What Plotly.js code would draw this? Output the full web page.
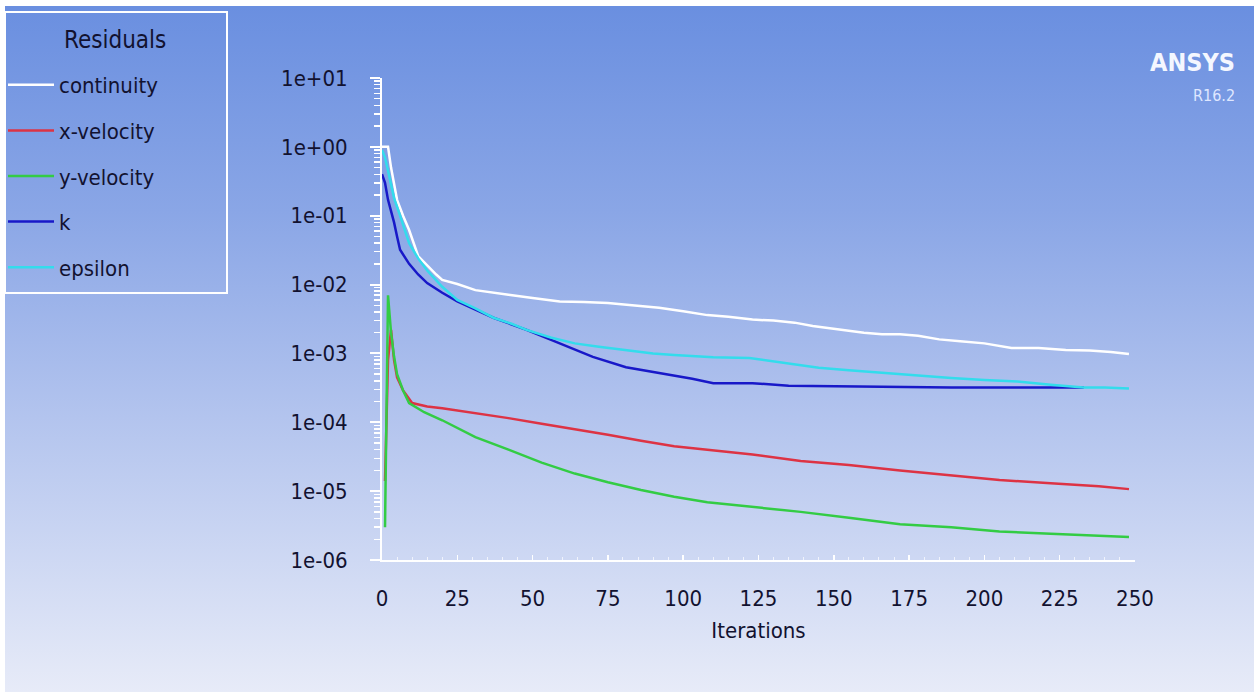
<!DOCTYPE html>
<html>
<head>
<meta charset="utf-8">
<script src="https://cdn.plot.ly/plotly-3.0.1.min.js"></script>
<style>
  html, body { margin: 0; padding: 0; background: #ffffff; }
  #wrap { position: relative; width: 1259px; height: 693px; overflow: hidden; }
  #bg { position: absolute; left: 5px; top: 6px; width: 1249px; height: 686px;
        background: linear-gradient(to bottom, #6a8fe0 0%, #8aa6e6 30%, #b3c4ee 60%, #e7ebf8 100%); }
  #chart { position: absolute; left: 0; top: 0; width: 1259px; height: 693px; }
</style>
</head>
<body>
<div id="wrap"><div id="bg"></div><div id="chart"></div></div>
<script>
// ---- Data ----
const contIter = [0,1,2,3,4,5,7,9,12,15,18,20,25,31,36,42,50,59,67,75,83,92,100,108,115,123,130,137,143,149,155,160,166,172,178,185,192,200,209,218,227,235,242,248];
const contVal  = [1.0,1.0,1.0,0.5,0.28,0.17,0.1,0.062,0.026,0.019,0.014,0.0117,0.0102,0.0083,0.0077,0.0071,0.0064,0.0057,0.0056,0.0054,0.0050,0.0046,0.0041,0.0036,0.0034,0.0031,0.0030,0.0028,0.0025,0.0023,0.0021,0.0020,0.0019,0.0019,0.0018,0.0016,0.0015,0.0014,0.0012,0.0012,0.00112,0.00110,0.00105,0.00098];

const xvIter = [1,2,3,4,5,7,10,15,20,31,42,53,64,75,86,97,108,123,139,155,172,189,205,222,238,248];
const xvVal  = [1.4e-5,8e-4,2.2e-3,8e-4,4.5e-4,2.9e-4,1.9e-4,1.7e-4,1.6e-4,1.37e-4,1.15e-4,9.5e-5,8e-5,6.6e-5,5.4e-5,4.5e-5,4e-5,3.4e-5,2.75e-5,2.4e-5,2.0e-5,1.7e-5,1.45e-5,1.3e-5,1.18e-5,1.07e-5];

const yvIter = [1,2,3,4,5,7,9,14,20,31,42,53,64,75,86,97,108,123,139,155,172,189,205,222,248];
const yvVal  = [3e-6,7e-3,2e-3,9e-4,5e-4,2.9e-4,1.9e-4,1.4e-4,1.07e-4,6.1e-5,4e-5,2.6e-5,1.8e-5,1.35e-5,1.04e-5,8.3e-6,6.9e-6,5.9e-6,5e-6,4.1e-6,3.3e-6,3.0e-6,2.6e-6,2.4e-6,2.15e-6];

const kIter = [0,1,2,3,4,5,6,9,12,15,20,25,31,37,48,59,70,81,92,103,110,123,135,160,189,233];
const kVal  = [0.4,0.3,0.17,0.12,0.08,0.05,0.032,0.02,0.014,0.0105,0.0076,0.0057,0.0043,0.0033,0.0022,0.0014,0.00089,0.00063,0.00052,0.00043,0.00037,0.00037,0.00034,0.00033,0.00032,0.00032];

const epsIter = [0,1,2,3,4,6,9,12,15,20,25,31,37,43,48,56,64,72,81,90,97,110,122,135,145,155,166,178,189,200,211,222,233,240,248];
const epsVal  = [0.9,0.7,0.45,0.28,0.18,0.1,0.04,0.024,0.016,0.0093,0.006,0.0045,0.0033,0.0027,0.0022,0.0017,0.0014,0.00125,0.00112,0.001,0.00095,0.00088,0.00086,0.00072,0.00062,0.00057,0.00052,0.00048,0.00044,0.00041,0.00039,0.00035,0.00032,0.00032,0.00031];

const seriesNames = ['continuity','x-velocity','y-velocity','k','epsilon'];
const seriesColors = ['#ffffff','#dd3344','#33cc44','#1818c8','#33dcec'];

const yTickVals = [1e-6,1e-5,1e-4,1e-3,1e-2,1e-1,1e0,1e1];
const yTickText = ['1e-06','1e-05','1e-04','1e-03','1e-02','1e-01','1e+00','1e+01'];
const xTickVals = [0,25,50,75,100,125,150,175,200,225,250];

// minor tick positions on the log axis (2..9 per decade)
const yMinor = [];
for (let e = -6; e < 1; e++) { for (let m = 2; m <= 9; m++) yMinor.push(m * Math.pow(10, e)); }

const fontStack = '"Liberation Sans Narrow", "DejaVu Sans Condensed", "Liberation Sans", sans-serif';
const textColor = '#121230';

const xs = [contIter, xvIter, yvIter, kIter, epsIter];
const ys = [contVal, xvVal, yvVal, kVal, epsVal];

const traces = seriesNames.map((n, i) => ({
  x: xs[i], y: ys[i], name: n, type: 'scatter', mode: 'lines',
  line: { color: seriesColors[i], width: 2.5 },
  legendgroup: n
}));

const W = 1259, H = 693;
const layout = {
  width: W, height: H,
  margin: { l: 382, r: 124, t: 78, b: 133, pad: 0, autoexpand: false },
  paper_bgcolor: 'rgba(0,0,0,0)',
  plot_bgcolor: 'rgba(0,0,0,0)',
  font: { family: fontStack, color: textColor },
  showlegend: true,
  legend: {
    xref: 'container', yref: 'container',
    x: 3 / W, y: 1 - 64 / H, xanchor: 'left', yanchor: 'top',
    bgcolor: 'rgba(0,0,0,0)', borderwidth: 0,
    font: { family: fontStack, size: 22, color: textColor },
    traceorder: 'grouped', tracegroupgap: 14,
    itemwidth: 46
  },
  shapes: [
    { type: 'rect', xref: 'paper', yref: 'paper',
      x0: (5 - 382) / 753, x1: (227 - 382) / 753, y0: (560 - 293) / 482, y1: (560 - 12) / 482,
      line: { color: '#ffffff', width: 2 }, fillcolor: 'rgba(0,0,0,0)' }
  ],
  xaxis: {
    range: [0, 250], tickvals: xTickVals, automargin: false,
    showline: true, linecolor: '#ffffff', linewidth: 2,
    ticks: 'inside', ticklen: 5, tickwidth: 1.5, tickcolor: '#ffffff',
    minor: { ticks: 'inside', dtick: 5, ticklen: 3, tickcolor: 'rgba(255,255,255,0.7)', tickwidth: 1 },
    showgrid: false, zeroline: false,
    tickfont: { family: fontStack, size: 22, color: textColor },
    ticklabelstandoff: 18,
    title: { text: 'Iterations', font: { family: fontStack, size: 22, color: textColor }, standoff: 12 }
  },
  yaxis: {
    type: 'log', range: [-6, 1], automargin: false,
    tickvals: yTickVals, ticktext: yTickText,
    showline: true, linecolor: '#ffffff', linewidth: 2,
    ticks: 'outside', ticklen: 10, tickwidth: 2, tickcolor: '#ffffff',
    minor: { ticks: 'outside', tickvals: yMinor, ticklen: 6, tickcolor: '#ffffff', tickwidth: 1.5 },
    showgrid: false, zeroline: false,
    tickfont: { family: fontStack, size: 22, color: textColor },
    ticklabelstandoff: 18
  },
  annotations: [
    { text: 'Residuals', xref: 'paper', yref: 'paper', x: (115 - 382) / 753, y: (560 - 40) / 482,
      xanchor: 'center', yanchor: 'middle', showarrow: false,
      font: { family: fontStack, size: 24, color: textColor } },
    { text: '<b>ANSYS</b>', xref: 'paper', yref: 'paper', x: 1.1355, y: 1.033,
      xanchor: 'right', yanchor: 'middle', showarrow: false,
      font: { family: fontStack, size: 25, color: '#f4f7ff' } },
    { text: 'R16.2', xref: 'paper', yref: 'paper', x: 1.1355, y: 0.963,
      xanchor: 'right', yanchor: 'middle', showarrow: false,
      font: { family: fontStack, size: 16, color: '#dfe7ff' } }
  ]
};

Plotly.newPlot('chart', traces, layout, { displayModeBar: false, staticPlot: true });
</script>
</body>
</html>
